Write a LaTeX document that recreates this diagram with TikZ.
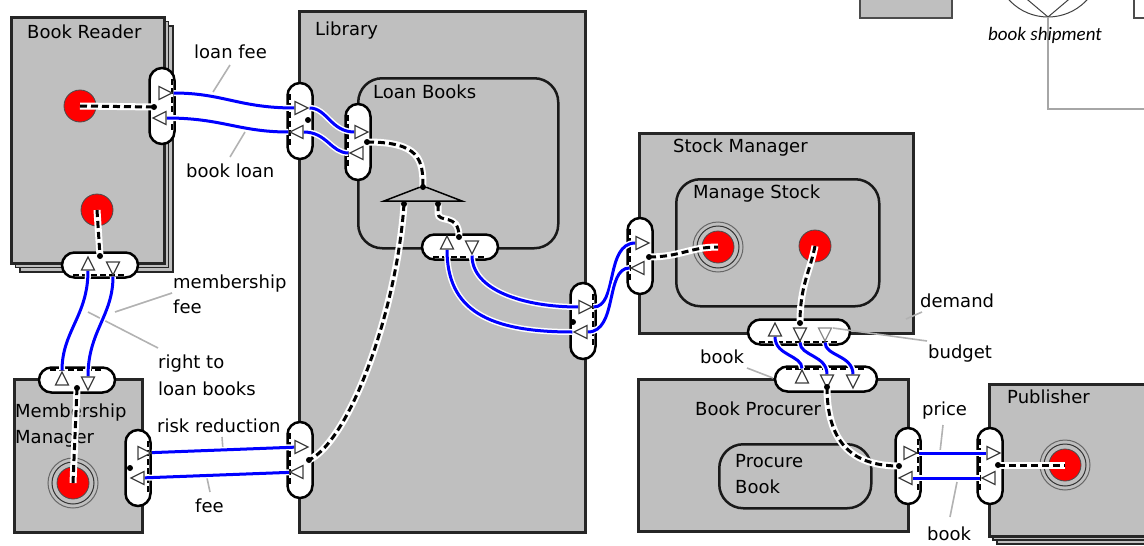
\documentclass[tikz,border=0pt]{standalone}
\usepackage{fontspec}
\setmainfont{DejaVu Sans}
\newfontfamily\notefont{Carlito}
\usetikzlibrary{positioning, calc, shapes.geometric}
\pgfdeclarelayer{back}
\pgfdeclarelayer{flows}
\pgfsetlayers{back,flows,main}
\begin{document}
\begin{tikzpicture}[x=1pt, y=-1pt,
         font = \fontsize{18}{21}\selectfont,
    box/.style = {rectangle, draw=black!85, fill=black!25, line width=2.8pt, anchor=north west, inner sep=0pt},
  shade/.style = {box, line width=1.8pt},
    act/.style = {rectangle, rounded corners=24pt, draw=black!90, line width=2.5pt, anchor=north west, inner sep=0pt},
  vport/.style = {rectangle, rounded corners=12.5pt, draw=black, fill=white, line width=2.5pt, minimum width=25pt, minimum height=76pt, inner sep=0pt},
  hport/.style = {vport, minimum width=76pt, minimum height=25pt},
   rim/.style = {draw=black, line width=2pt, dash pattern=on 6pt off 3pt},
    tri/.style = {isosceles triangle, isosceles triangle stretches, draw=black!75, fill=white, line width=1.2pt, minimum width=13pt, minimum height=13pt, inner sep=0pt},
   triR/.style = {tri},
   triL/.style = {tri, rotate=180},
   triU/.style = {tri, rotate=90},
   triD/.style = {tri, rotate=-90},
    dot/.style = {circle, fill=black, inner sep=0pt, minimum size=6pt},
   core/.style = {circle, fill=red, draw=black!70, line width=0.8pt, minimum size=32pt, inner sep=0pt},
   ring/.style = {circle, draw=black!60, line width=1pt, minimum size=#1, inner sep=0pt},
   flow/.style = {draw=blue, line width=3pt, preaction={draw=white, line width=6pt}},
   link/.style = {draw=black, line width=3pt, dash pattern=on 7pt off 4pt, preaction={draw=white, line width=7pt}},
   lead/.style = {draw=black!30, line width=1.6pt},
    txt/.style = {anchor=base west, inner sep=0pt}
                    ]
\useasboundingbox (0,0) rectangle (1144,546);

\begin{pgfonlayer}{back}
\draw[draw=black!70, fill=black!25, line width=1.5pt] (860,-5) rectangle (952,18);
\draw[draw=black!70, fill=white, line width=1.5pt] (1134,-5) rectangle (1160,18);
\draw[black!75, line width=1pt] (1048,-36) circle[radius=53];
\draw[black!75, line width=1pt] (1022,-5) -- (1048,17) -- (1074,-5);
\draw[black!35, line width=2pt] (1048,17) -- (1048,109) -- (1150,109);
\node[txt, font=\notefont\itshape\fontsize{19}{22}\selectfont] (shipment) at (988,40) {book shipment};

\node[shade, minimum width=153pt, minimum height=246pt] (readerC) at (19,25) {};
\node[shade, minimum width=153pt, minimum height=246pt] (readerB) at (14.5,20.5) {};
\node[box, minimum width=153pt, minimum height=246pt] (reader) at (10,16) {};
\node[box, minimum width=128pt, minimum height=153pt] (member) at (13,378) {};
\node[box, minimum width=286pt, minimum height=521pt] (library) at (298,10) {};
\node[act, minimum width=200pt, minimum height=170pt] (loans) at (357,77) {};
\node[box, minimum width=274pt, minimum height=200pt] (stock) at (638,132) {};
\node[act, minimum width=203pt, minimum height=127pt] (manage) at (675,178) {};
\node[box, minimum width=270pt, minimum height=152pt] (procurer) at (637,378) {};
\node[act, minimum width=152pt, minimum height=64pt] (procure) at (718,443) {};
\node[shade, minimum width=160pt, minimum height=152pt] (publisherC) at (996,391) {};
\node[shade, minimum width=160pt, minimum height=152pt] (publisherB) at (992,387) {};
\node[box, minimum width=160pt, minimum height=152pt] (publisher) at (988,383) {};

\node[txt] (readerT) at (27,38) {Book Reader};
\node[txt] (memberT1) at (15,417) {Membership};
\node[txt] (memberT2) at (15,443) {Manager};
\node[txt] (libraryT) at (315,35) {Library};
\node[txt] (loansT) at (373,98) {Loan Books};
\node[txt] (stockT) at (673,152) {Stock Manager};
\node[txt] (manageT) at (693,198) {Manage Stock};
\node[txt] (procurerT) at (695,415) {Book Procurer};
\node[txt] (procureT1) at (735,467) {Procure};
\node[txt] (procureT2) at (735,493) {Book};
\node[txt] (publisherT) at (1007,403) {Publisher};

\node[ring=50pt] (mmRingA) at (73,483) {};
\node[ring=42pt, draw=black!80] (mmRingB) at (73,483) {};
\node[core] (mmCore) at (73,483) {};
\node[core] (brCore1) at (80,106) {};
\node[core] (brCore2) at (97,210) {};
\node[ring=50pt] (smRingA) at (718,247) {};
\node[ring=42pt, draw=black!80] (smRingB) at (718,247) {};
\node[core] (smCore1) at (718,247) {};
\node[core] (smCore2) at (815,246) {};
\node[ring=50pt] (pubRingA) at (1065,465) {};
\node[ring=42pt, draw=black!80] (pubRingB) at (1065,465) {};
\node[core] (pubCore) at (1065,465) {};

\node[vport] (brP) at (162,106) {};
\node[hport] (brQ) at (100,265) {};
\node[hport] (mmP) at (77,380) {};
\node[vport] (mmQ) at (138,468) {};
\node[vport] (libP) at (300,121) {};
\node[vport] (libQ) at (300,460) {};
\node[vport] (lbP) at (358,142) {};
\node[hport] (lbQ) at (460,247) {};
\node[vport] (libR) at (583,321) {};
\node[vport] (smP) at (640,256) {};
\node[hport, minimum width=102pt] (smQ) at (799,332) {};
\node[hport, minimum width=102pt] (bpP) at (826,379) {};
\node[vport] (bpQ) at (908,466) {};
\node[vport] (pubP) at (990,466) {};

\foreach \p in {brP, mmQ, libR, bpQ}
  \draw[rim] ($(\p.north east)+(-3.5,12.5)$) -- ($(\p.south east)+(-3.5,-12.5)$);
\foreach \p in {libP, libQ, lbP, smP, pubP}
  \draw[rim] ($(\p.north west)+(3.5,12.5)$) -- ($(\p.south west)+(3.5,-12.5)$);
\foreach \p in {brQ, lbQ, smQ}
  \draw[rim] ($(\p.south west)+(12.5,-3.5)$) -- ($(\p.south east)+(-12.5,-3.5)$);
\foreach \p in {mmP, bpP}
  \draw[rim] ($(\p.north west)+(12.5,3.5)$) -- ($(\p.north east)+(-12.5,3.5)$);

\draw[fill=black!25, draw=black, line width=1.5pt] (384,201) -- (423,186) -- (462,201) -- cycle;

\node[txt] (loanFee) at (194,58) {loan fee};
\node[txt] (bookLoan) at (186,177) {book loan};
\node[txt] (memFee1) at (173,288) {membership};
\node[txt] (memFee2) at (173,313) {fee};
\node[txt] (right1) at (158,368) {right to};
\node[txt] (right2) at (158,395) {loan books};
\node[txt] (risk) at (157,432) {risk reduction};
\node[txt] (fee) at (195,512) {fee};
\node[txt] (demand) at (920,307) {demand};
\node[txt] (budget) at (928,358) {budget};
\node[txt] (bookA) at (700,363) {book};
\node[txt] (price) at (922,415) {price};
\node[txt] (bookB) at (927,540) {book};

\draw[lead] (213,92) -- (230,65);
\draw[lead] (245,132) -- (230,157);
\draw[lead] (115,312) -- (172,293);
\draw[lead] (88,312) -- (158,348);
\draw[lead] (222,437) -- (223,450);
\draw[lead] (207,478) -- (210,492);
\draw[lead] (906,319) -- (922,312);
\draw[lead] (833,328) -- (927,341);
\draw[lead] (747,368) -- (773,378);
\draw[lead] (943,425) -- (940,452);
\draw[lead] (957,482) -- (950,517);
\end{pgfonlayer}

\node[triR] (brR) at (163,93) {};
\node[triL] (brL) at (162,118) {};
\node[triU] (brU) at (88,266) {};
\node[triD] (brD) at (113,266) {};
\node[triU] (mmU) at (62,381) {};
\node[triD] (mmD) at (88,381) {};
\node[triR] (mmR) at (142,453) {};
\node[triL] (mmL) at (140,478) {};
\node[triR] (libPR) at (299,108) {};
\node[triL] (libPL) at (299,132) {};
\node[triR] (libQR) at (299,447) {};
\node[triL] (libQL) at (299,472) {};
\node[triR] (lbR) at (359,132) {};
\node[triL] (lbL) at (359,153) {};
\node[triU] (lbU) at (447,245) {};
\node[triD] (lbD) at (472,245) {};
\node[triR] (libRR) at (583,307) {};
\node[triL] (libRL) at (583,332) {};
\node[triR] (smR) at (640,243) {};
\node[triL] (smL) at (640,268) {};
\node[triU] (smU) at (775,332) {};
\node[triD] (smD1) at (800,332) {};
\node[triD, draw=black!45] (smD2) at (825,332) {};
\node[triU] (bpU) at (802,379) {};
\node[triD] (bpD1) at (827,379) {};
\node[triD] (bpD2) at (853,379) {};
\node[triR] (bpR) at (908,453) {};
\node[triL] (bpL) at (908,478) {};
\node[triR] (pubR) at (991,453) {};
\node[triL] (pubL) at (991,478) {};

\node[dot] (brDot1) at (154,107) {};
\node[dot] (brDot2) at (100,256) {};
\node[dot] (mmDot1) at (77,388) {};
\node[dot] (mmDot2) at (130,468) {};
\node[dot] (libDot1) at (308,120) {};
\node[dot] (libDot2) at (309,460) {};
\node[dot] (lbDot1) at (367,142) {};
\node[dot] (lbDot2) at (459,237) {};
\node[dot] (libDot3) at (573,322) {};
\node[dot] (forkTop) at (423,187) {};
\node[dot] (forkL) at (404,204) {};
\node[dot] (forkR) at (438,204) {};
\node[dot] (smDot1) at (649,257) {};
\node[dot] (smDot2) at (800,323) {};
\node[dot] (bpDot1) at (827,387) {};
\node[dot] (bpDot2) at (899,466) {};
\node[dot] (pubDot) at (998,465) {};

\begin{pgfonlayer}{flows}
\draw[flow] (brR) .. controls +(60,0) and +(-60,0) .. (libPR);
\draw[flow] (libPL) .. controls +(-60,0) and +(60,0) .. (brL);
\draw[flow] (libPR) .. controls +(28,0) and +(-28,0) .. (lbR);
\draw[flow] (lbL) .. controls +(-28,0) and +(28,0) .. (libPL);
\draw[flow] (lbD) .. controls +(0,45) and +(-60,0) .. (libRR);
\draw[flow] (libRL) .. controls +(-95,0) and +(0,65) .. (lbU);
\draw[flow] (libRR) .. controls +(35,0) and +(-35,0) .. (smR);
\draw[flow] (smL) .. controls +(-35,0) and +(35,0) .. (libRL);
\draw[flow] (mmU) .. controls +(0,-50) and +(0,50) .. (brU);
\draw[flow] (brD) .. controls +(0,50) and +(0,-50) .. (mmD);
\draw[flow] (mmR) -- (libQR);
\draw[flow] (libQL) -- (mmL);
\draw[flow] (bpU) .. controls +(0,-24) and +(0,24) .. (smU);
\draw[flow] (smD1) .. controls +(0,24) and +(0,-24) .. (bpD1);
\draw[flow] (smD2) .. controls +(0,24) and +(0,-24) .. (bpD2);
\draw[flow] (bpR) -- (pubR);
\draw[flow] (pubL) -- (bpL);

\draw[link] (brCore1.center) -- (brDot1.center);
\draw[link] (brCore2.center) -- (brDot2.center);
\draw[link] (mmCore.center) -- (mmDot1.center);
\draw[link] (lbDot1.center) .. controls (420,142) and (423,160) .. (forkTop.center);
\draw[link] (forkR.center) -- (438,213) .. controls (438,224) and (459,212) .. (lbDot2.center);
\draw[link] (forkL.center) .. controls (397,310) and (350,440) .. (libDot2.center);
\draw[link] (smDot1.center) .. controls (680,257) and (690,247) .. (smCore1.center);
\draw[link] (smCore2.center) .. controls (810,272) and (800,285) .. (smDot2.center);
\draw[link] (bpDot1.center) .. controls (827,440) and (850,466) .. (bpDot2.center);
\draw[link] (pubDot.center) -- (pubCore.center);
\end{pgfonlayer}
\end{tikzpicture}
\end{document}
